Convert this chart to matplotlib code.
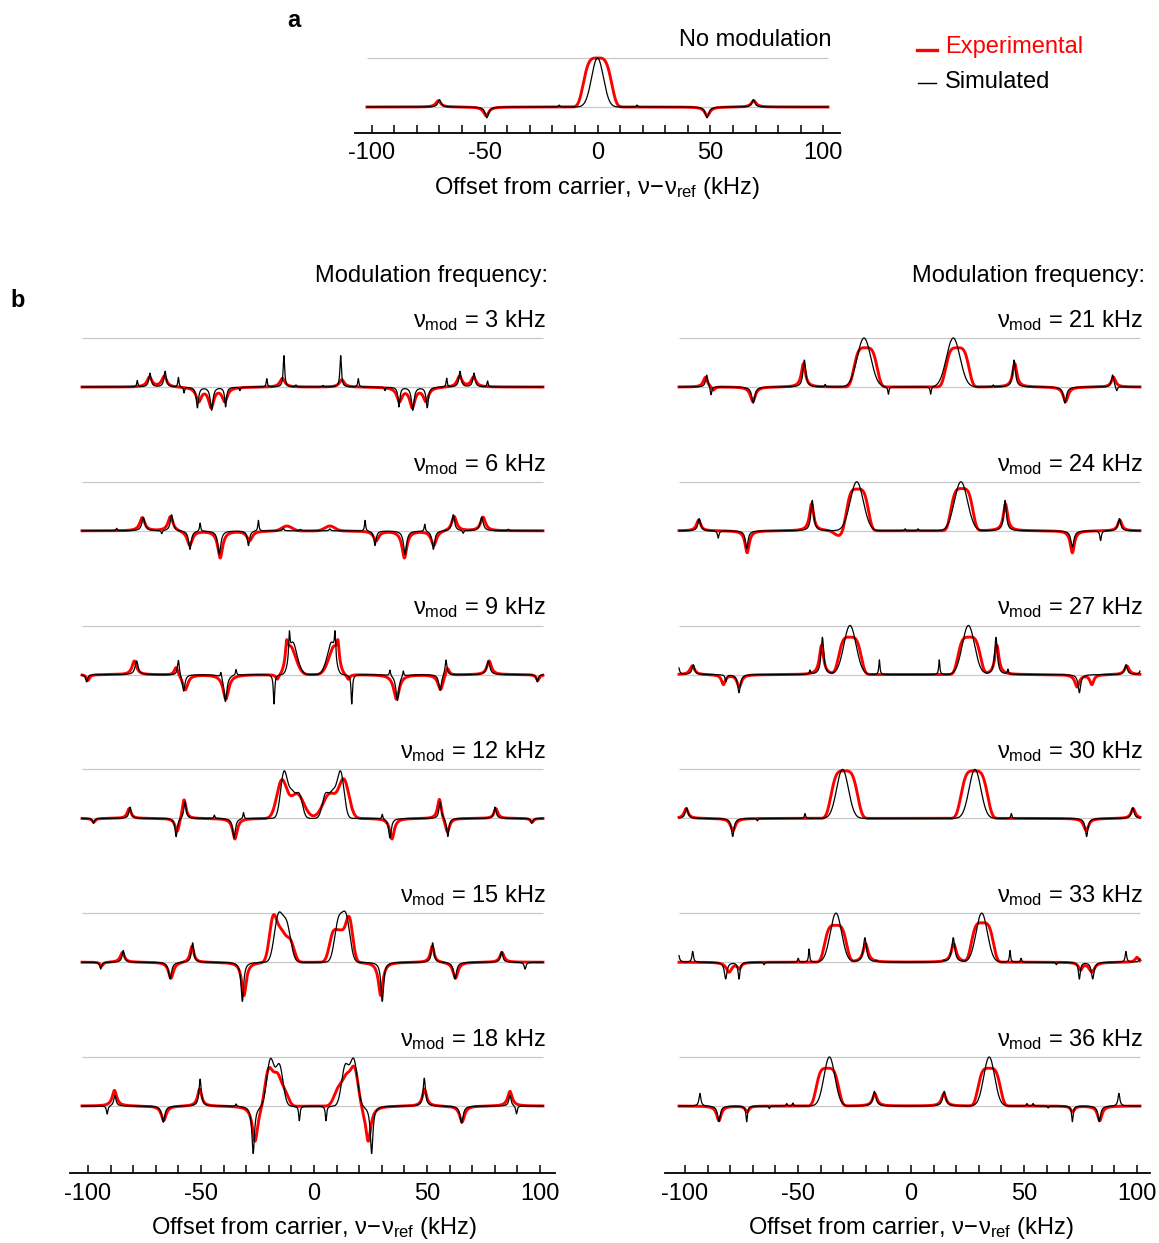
import numpy as np
import matplotlib
matplotlib.use("Agg")
import matplotlib.pyplot as plt
from matplotlib.lines import Line2D

plt.rcParams["font.family"] = ["Liberation Sans", "DejaVu Sans"]
plt.rcParams["mathtext.fontset"] = "custom"
plt.rcParams["mathtext.rm"] = "Liberation Sans"
plt.rcParams["mathtext.it"] = "Liberation Sans"
plt.rcParams["mathtext.bf"] = "Liberation Sans:bold"

# peak lists: (offset kHz, amplitude, width kHz, shape)
# shape: L = lorentzian (hwhm), G = gaussian (sigma), F = flat-topped
sim_a = [(-70, 0.15, 0.8, "L"), (-49, -0.22, 0.9, "L"), (-17, 0.04, 0.3, "L"),
         (0, 1.0, 2.6, "G"), (17.5, 0.04, 0.3, "L"), (48.5, -0.22, 0.9, "L"),
         (69, 0.15, 0.8, "L")]
exp_a = [(-70.5, 0.13, 1.3, "L"), (-49.3, -0.18, 1.4, "L"), (0, 1.0, 6.8, "F"),
         (48.6, -0.18, 1.4, "L"), (69.2, 0.13, 1.3, "L")]

sim_03 = [(-78.2, 0.13, 0.3, "L"), (-72.6, 0.28, 0.6, "L"), (-65.9, 0.32, 0.6, "L"),
          (-60, 0.2, 0.3, "L"), (-57.5, -0.12, 0.3, "L"), (-51.6, -0.42, 0.6, "L"),
          (-45.3, -0.47, 0.7, "L"), (-39.1, -0.4, 0.5, "L"), (-32.8, -0.07, 0.3, "L"),
          (-20.9, 0.17, 0.3, "L"), (-13.3, 0.64, 0.4, "L"), (-8, 0.04, 0.3, "L"),
          (4, 0.03, 0.3, "L"), (11.8, 0.64, 0.4, "L"), (19.6, 0.17, 0.3, "L"),
          (31.4, -0.07, 0.3, "L"), (37.6, -0.4, 0.5, "L"), (43.7, -0.47, 0.7, "L"),
          (50.1, -0.42, 0.6, "L"), (58.7, 0.18, 0.3, "L"), (64.6, 0.32, 0.6, "L"),
          (70.8, 0.28, 0.6, "L"), (76.8, 0.12, 0.3, "L")]
exp_03 = [(-72.8, 0.2, 1.3, "L"), (-66.3, 0.22, 1.3, "L"), (-51, -0.28, 1.4, "L"),
          (-45.5, -0.4, 1.4, "L"), (-39.5, -0.28, 1.4, "L"), (-14, 0.18, 1.3, "L"),
          (12.3, 0.15, 1.3, "L"), (37.8, -0.28, 1.4, "L"), (43.5, -0.4, 1.4, "L"),
          (49.5, -0.28, 1.4, "L"), (64.4, 0.22, 1.3, "L"), (70.6, 0.2, 1.3, "L")]

sim_06 = [(-87.3, 0.05, 0.3, "L"), (-75.5, 0.27, 0.8, "L"), (-67.4, -0.07, 0.3, "L"),
          (-63, 0.33, 0.7, "L"), (-54.9, -0.38, 0.7, "L"), (-50.4, 0.17, 0.3, "L"),
          (-41.9, -0.48, 0.8, "L"), (-29, -0.3, 0.6, "L"), (-24.6, 0.22, 0.3, "L"),
          (-13.6, 0.05, 0.4, "L"), (-6, 0.03, 0.3, "L"), (7, 0.04, 0.4, "L"),
          (22.6, 0.22, 0.3, "L"), (27, -0.3, 0.6, "L"), (40.3, -0.48, 0.8, "L"),
          (49, 0.15, 0.3, "L"), (52.8, -0.38, 0.7, "L"), (61.6, 0.33, 0.7, "L"),
          (66, -0.06, 0.3, "L"), (74.2, 0.28, 0.8, "L"), (86, 0.03, 0.3, "L")]
exp_06 = [(-76, 0.27, 1.3, "L"), (-63.5, 0.3, 1.3, "L"), (-55, -0.3, 1.4, "L"),
          (-41.5, -0.55, 1.3, "L"), (-28.5, -0.2, 1.4, "L"), (-12, 0.1, 2.2, "G"),
          (7, 0.1, 2.2, "G"), (27.5, -0.2, 1.4, "L"), (40, -0.55, 1.3, "L"),
          (53, -0.3, 1.4, "L"), (62, 0.3, 1.3, "L"), (74.8, 0.28, 1.3, "L")]

sim_09 = [(-100.6, -0.15, 0.5, "L"), (-78.5, 0.28, 0.8, "L"), (-60, 0.32, 0.5, "L"),
          (-57.7, -0.35, 0.7, "L"), (-41.2, 0.12, 0.3, "L"), (-39.2, -0.55, 0.8, "L"),
          (-34.5, 0.12, 0.3, "L"), (-17.7, -0.6, 0.35, "L"), (-10.9, 0.5, 0.35, "L"),
          (-9.5, 0.6, 1.5, "G"), (-7, 0.15, 1.5, "G"), (5.4, 0.15, 1.5, "G"),
          (7.9, 0.6, 1.5, "G"), (9.3, 0.5, 0.35, "L"), (16.7, -0.6, 0.35, "L"),
          (33.6, 0.12, 0.3, "L"), (36.9, -0.53, 0.8, "L"), (39.5, 0.12, 0.3, "L"),
          (55.8, -0.33, 0.7, "L"), (58.4, 0.32, 0.5, "L"), (77.1, 0.28, 0.8, "L"),
          (98.8, -0.15, 0.5, "L")]
exp_09 = [(-100, -0.12, 0.8, "L"), (-79.5, 0.28, 1.2, "L"), (-61, 0.18, 1.0, "L"),
          (-57, -0.32, 1.4, "L"), (-39, -0.5, 1.5, "L"), (-16.2, -0.1, 0.8, "L"),
          (-12.1, 0.35, 0.6, "L"), (-10.6, 0.5, 1.8, "G"), (-7.8, 0.15, 1.8, "G"),
          (6.3, 0.15, 1.8, "G"), (9.1, 0.5, 1.8, "G"), (10.6, 0.35, 0.6, "L"),
          (15.2, -0.1, 0.8, "L"), (36.5, -0.5, 1.5, "L"), (56, -0.32, 1.4, "L"),
          (59, 0.18, 1.0, "L"), (77.5, 0.28, 1.2, "L"), (99, -0.12, 0.8, "L")]

sim_12 = [(-97.6, -0.1, 0.5, "L"), (-81.4, 0.23, 0.6, "L"), (-61, -0.38, 0.6, "L"),
          (-57.1, 0.35, 0.6, "L"), (-44.1, 0.07, 0.3, "L"), (-35.4, -0.4, 0.7, "L"),
          (-31.2, 0.13, 0.3, "L"), (-13.3, 0.92, 1.5, "G"), (-9.8, 0.5, 1.6, "G"),
          (-6.5, 0.45, 1.4, "G"), (5.0, 0.45, 1.4, "G"), (8.3, 0.5, 1.6, "G"),
          (11.8, 0.92, 1.5, "G"), (30.2, 0.1, 0.3, "L"), (33.6, -0.4, 0.7, "L"),
          (55.8, 0.35, 0.6, "L"), (59.2, -0.38, 0.6, "L"), (80.1, 0.23, 0.6, "L"),
          (96.3, -0.1, 0.5, "L")]
exp_12 = [(-97.5, -0.08, 0.8, "L"), (-81.8, 0.2, 1.0, "L"), (-60.5, -0.3, 1.2, "L"),
          (-57.5, 0.42, 1.0, "L"), (-35, -0.42, 1.2, "L"), (-14.3, 0.75, 2.2, "G"),
          (-7.5, 0.5, 3, "G"), (7, 0.5, 3, "G"), (13.3, 0.75, 2.2, "G"),
          (34.5, -0.42, 1.2, "L"), (55.5, 0.42, 1.0, "L"), (59, -0.3, 1.2, "L"),
          (80.5, 0.2, 1.0, "L"), (96.5, -0.08, 0.8, "L")]

sim_15 = [(-94.4, -0.14, 0.5, "L"), (-84.4, 0.24, 0.6, "L"), (-63.7, -0.34, 0.8, "L"),
          (-53.7, 0.4, 0.6, "L"), (-31.7, -0.8, 0.7, "L"), (-15.8, 0.91, 1.8, "G"),
          (-12.1, 0.74, 1.8, "G"), (10.8, 0.8, 1.7, "G"), (14.2, 0.89, 1.7, "G"),
          (30.2, -0.8, 0.7, "L"), (52.5, 0.4, 0.6, "L"), (62.4, -0.34, 0.8, "L"),
          (83, 0.22, 0.6, "L"), (93.4, -0.14, 0.5, "L")]
exp_15 = [(-94, -0.08, 0.8, "L"), (-84.8, 0.2, 1.1, "L"), (-63.3, -0.33, 1.3, "L"),
          (-54, 0.33, 1.0, "L"), (-31, -0.68, 1.2, "L"), (-18.2, 0.8, 1.6, "G"),
          (-14.5, 0.62, 2.2, "G"), (-10.3, 0.36, 1.6, "G"), (8.2, 0.45, 1.6, "G"),
          (11.8, 0.6, 2.2, "G"), (15.7, 0.8, 1.5, "G"), (29.5, -0.68, 1.2, "L"),
          (52.3, 0.33, 1.0, "L"), (62.6, -0.33, 1.3, "L"), (83.2, 0.2, 1.1, "L")]

sim_18 = [(-91.5, -0.17, 0.4, "L"), (-88.1, 0.22, 0.6, "L"), (-66.7, -0.33, 0.8, "L"),
          (-50.4, 0.55, 0.6, "L"), (-34.5, 0.05, 0.3, "L"), (-26.9, -0.97, 0.7, "L"),
          (-19.3, 0.94, 1.6, "G"), (-15.3, 0.82, 1.6, "G"), (-6.5, -0.3, 0.35, "L"),
          (5.3, -0.3, 0.35, "L"), (13.8, 0.8, 1.6, "G"), (17.6, 0.93, 1.6, "G"),
          (25.5, -0.97, 0.7, "L"), (48.8, 0.57, 0.6, "L"), (65.3, -0.35, 0.8, "L"),
          (86.7, 0.22, 0.6, "L"), (89.6, -0.17, 0.4, "L")]
exp_18 = [(-88.3, 0.32, 1.2, "L"), (-66.5, -0.3, 1.3, "L"), (-50.6, 0.35, 1.1, "L"),
          (-26.1, -0.72, 1.4, "L"), (-20.2, 0.7, 1.6, "G"), (-16.3, 0.65, 2, "G"),
          (-12.5, 0.2, 1.5, "G"), (10.5, 0.3, 1.8, "G"), (14.5, 0.6, 2, "G"),
          (18.1, 0.7, 1.6, "G"), (24, -0.72, 1.4, "L"), (48.9, 0.35, 1.1, "L"),
          (65.5, -0.33, 1.3, "L"), (86.7, 0.3, 1.2, "L")]

sim_21 = [(-90.4, 0.25, 0.6, "L"), (-88.5, -0.18, 0.4, "L"), (-69.8, -0.33, 0.8, "L"),
          (-47.2, 0.55, 0.7, "L"), (-38, 0.05, 0.3, "L"), (-20.8, 1.0, 3.0, "G"),
          (-10, -0.15, 0.3, "L"), (8.7, -0.15, 0.3, "L"), (18.7, 1.0, 3.0, "G"),
          (36.4, 0.04, 0.3, "L"), (45.6, 0.55, 0.7, "L"), (68.1, -0.33, 0.8, "L"),
          (89.2, 0.25, 0.6, "L"), (91, -0.1, 0.4, "L")]
exp_21 = [(-91, 0.2, 1.1, "L"), (-87.5, -0.08, 0.8, "L"), (-70, -0.3, 1.3, "L"),
          (-47.6, 0.48, 1.1, "L"), (-20.1, 0.8, 5.6, "F"), (20.5, 0.8, 5.6, "F"),
          (45.9, 0.48, 1.1, "L"), (68.4, -0.3, 1.3, "L"), (89.6, 0.2, 1.1, "L")]

sim_24 = [(-93.7, 0.25, 0.7, "L"), (-85.3, -0.15, 0.4, "L"), (-72.7, -0.36, 0.7, "L"),
          (-43.7, 0.62, 0.7, "L"), (-24, 1.0, 2.9, "G"), (-2.6, 0.04, 0.3, "L"),
          (3.1, 0.04, 0.3, "L"), (22.1, 1.0, 2.9, "G"), (41.6, 0.62, 0.7, "L"),
          (71.4, -0.33, 0.8, "L"), (83.9, -0.2, 0.4, "L"), (92.2, 0.25, 0.7, "L")]
exp_24 = [(-94, 0.22, 1.1, "L"), (-72.5, -0.45, 1.1, "L"), (-44, 0.55, 1.1, "L"),
          (-32, -0.1, 2, "G"), (-23.7, 0.85, 5.3, "F"), (22.5, 0.86, 5.3, "F"),
          (41.8, 0.55, 1.1, "L"), (71.4, -0.45, 1.1, "L"), (92.4, 0.22, 1.1, "L")]

sim_27 = [(-103, 0.2, 0.5, "L"), (-96.3, 0.2, 0.7, "L"), (-81.9, -0.14, 0.4, "L"),
          (-76.1, -0.37, 0.7, "L"), (-44.7, 0.08, 0.3, "L"), (-39.2, 0.76, 0.7, "L"),
          (-27, 1.0, 2.7, "G"), (-14, 0.3, 0.3, "L"), (12.5, 0.3, 0.3, "L"),
          (25.4, 1.0, 2.7, "G"), (37.6, 0.76, 0.7, "L"), (42.9, 0.1, 0.3, "L"),
          (74.5, -0.37, 0.7, "L"), (95.1, 0.2, 0.7, "L"), (102, 0.2, 0.5, "L")]
exp_27 = [(-96.8, 0.18, 1.2, "L"), (-83, -0.2, 1.0, "L"), (-76, -0.25, 1.2, "L"),
          (-39.6, 0.6, 1.1, "L"), (-27, 0.76, 5.4, "F"), (25.7, 0.76, 5.4, "F"),
          (38, 0.6, 1.1, "L"), (73.5, -0.25, 1.2, "L"), (80, -0.2, 1.0, "L"),
          (95.5, 0.18, 1.2, "L")]

sim_30 = [(-99.3, 0.22, 0.7, "L"), (-78.9, -0.37, 0.7, "L"), (-68, -0.05, 0.3, "L"),
          (-46.9, 0.1, 0.3, "L"), (-30.3, 1.0, 2.6, "G"), (28.3, 1.0, 2.6, "G"),
          (44.4, 0.1, 0.3, "L"), (77.7, -0.37, 0.7, "L"), (98.1, 0.22, 0.7, "L")]
exp_30 = [(-99.5, 0.2, 1.1, "L"), (-78.8, -0.25, 1.3, "L"), (-29.5, 0.97, 6.4, "F"),
          (28, 0.97, 6.4, "F"), (77.5, -0.25, 1.3, "L"), (98.3, 0.2, 1.1, "L")]

sim_33 = [(-103, 0.2, 0.5, "L"), (-96.6, 0.22, 0.4, "L"), (-82, -0.34, 0.7, "L"),
          (-76.1, -0.34, 0.5, "L"), (-65, -0.05, 0.3, "L"), (-49.9, 0.08, 0.3, "L"),
          (-45.1, 0.27, 0.3, "L"), (-33.2, 1.0, 2.5, "G"), (-20.4, 0.5, 0.8, "L"),
          (-15.2, 0.03, 0.3, "L"), (14.6, 0.03, 0.3, "L"), (18.7, 0.5, 0.8, "L"),
          (31.3, 1.0, 2.5, "G"), (43.8, 0.24, 0.3, "L"), (48.7, 0.08, 0.3, "L"),
          (64.3, -0.05, 0.3, "L"), (74.5, -0.34, 0.5, "L"), (80.4, -0.34, 0.7, "L"),
          (95.1, 0.22, 0.4, "L"), (102, 0.2, 0.5, "L")]
exp_33 = [(-80.5, -0.2, 1.5, "L"), (-76, -0.12, 1.0, "L"), (-33.4, 0.75, 5.3, "F"),
          (-20.1, 0.38, 1.3, "L"), (18.9, 0.38, 1.3, "L"), (31.6, 0.8, 5.3, "F"),
          (75, -0.15, 1.0, "L"), (80, -0.2, 1.5, "L"), (100, 0.1, 1.0, "L")]

sim_36 = [(-93.4, 0.26, 0.5, "L"), (-85, -0.32, 0.7, "L"), (-72.7, -0.32, 0.4, "L"),
          (-62.7, -0.05, 0.3, "L"), (-55, 0.05, 0.3, "L"), (-52.3, 0.06, 0.3, "L"),
          (-36.1, 1.0, 2.4, "G"), (-16.2, 0.3, 0.8, "L"), (14.7, 0.3, 0.8, "L"),
          (34.6, 1.0, 2.4, "G"), (51.3, 0.05, 0.3, "L"), (54, 0.05, 0.3, "L"),
          (60.7, -0.04, 0.3, "L"), (71.4, -0.32, 0.4, "L"), (83.3, -0.32, 0.7, "L"),
          (92, 0.26, 0.5, "L")]
exp_36 = [(-85, -0.3, 1.2, "L"), (-72.5, -0.12, 1.0, "L"), (-37, 0.77, 5.4, "F"),
          (-16, 0.25, 1.2, "L"), (14.5, 0.25, 1.2, "L"), (34.6, 0.77, 5.4, "F"),
          (71.5, -0.12, 1.0, "L"), (83.5, -0.3, 1.2, "L")]

mod_left = [3, 6, 9, 12, 15, 18]
mod_right = [21, 24, 27, 30, 33, 36]
sim_left = [sim_03, sim_06, sim_09, sim_12, sim_15, sim_18]
exp_left = [exp_03, exp_06, exp_09, exp_12, exp_15, exp_18]
sim_right = [sim_21, sim_24, sim_27, sim_30, sim_33, sim_36]
exp_right = [exp_21, exp_24, exp_27, exp_30, exp_33, exp_36]

tick_pos = np.arange(-100, 101, 10)
tick_text = {-100: "-100", -50: "-50", 0: "0", 50: "50", 100: "100"}

RED = "#ff0000"
GRID = "#c8c8c8"
FS = 17
W, H = 1159, 1243
STEP = 143.8 / 49.0          # vertical spacing between stacked traces
XSPAN = (-102.65, 101.33)


def line(x, c, a, w, kind):
    d = x - c
    if kind == "L":
        return a * w ** 2 / (d ** 2 + w ** 2)
    if kind == "G":
        return a * np.exp(-0.5 * (d / w) ** 2)
    return a * np.exp(-(d / w) ** 4)


def spectrum(x, peaks):
    y = np.zeros_like(x)
    for p in peaks:
        y += line(x, *p)
    return y


def rect(x0, y0, x1, y1):
    return [x0 / W, 1 - y1 / H, (x1 - x0) / W, (y1 - y0) / H]


def ftext(x, y, s, **kw):
    fig.text(x / W, 1 - y / H, s, fontsize=kw.pop("fontsize", FS), **kw)


def style_axis(ax, pad):
    for side in ("left", "right", "top"):
        ax.spines[side].set_visible(False)
    ax.spines["bottom"].set_linewidth(1.3)
    ax.set_yticks([])
    ax.set_xticks(tick_pos)
    ax.set_xticklabels([tick_text.get(int(v), "") for v in tick_pos])
    ax.tick_params(axis="x", direction="in", length=5.5, width=1.1,
                   labelsize=FS, pad=pad)
    ax.patch.set_alpha(0)


def draw_trace(ax, x, base, sim, exp):
    ax.hlines([base, base + 1], x[0], x[-1], color=GRID, lw=0.9, zorder=1)
    ax.plot(x, base + spectrum(x, exp), color=RED, lw=2.1, zorder=2)
    ax.plot(x, base + spectrum(x, sim), color="black", lw=0.9, zorder=3)


fig = plt.figure(figsize=(W / 100, H / 100), dpi=100)

# ---- a: no modulation
xa = np.arange(-102.1, 102.1, 0.04)
ax_a = fig.add_axes(rect(355, 50, 840, 133))
ax_a.set_xlim((355 - 597.5) / 2.258, (840 - 597.5) / 2.258)
ax_a.set_ylim(-26 / 49, 57 / 49)
draw_trace(ax_a, xa, 0.0, sim_a, exp_a)
style_axis(ax_a, 6.5)

ftext(294, 27, "a", fontweight="bold", ha="center", va="baseline")
ftext(831, 46, "No modulation", ha="right", va="baseline")
ftext(597, 194, r"Offset from carrier, $\nu\!-\!\nu_{\mathrm{ref}}$ (kHz)",
      ha="center", va="baseline")

# legend
fig.add_artist(Line2D([917 / W, 937 / W], [1 - 50 / H] * 2, color=RED, lw=2.4))
fig.add_artist(Line2D([918 / W, 936 / W], [1 - 83 / H] * 2, color="black", lw=1.0))
ftext(945, 53, "Experimental", color=RED, ha="left", va="baseline")
ftext(945, 88, "Simulated", color="black", ha="left", va="baseline")

# ---- b: modulated, two stacked columns
xb = np.arange(XSPAN[0], XSPAN[1], 0.04)
columns = [(70, 555, 314, mod_left, sim_left, exp_left),
           (665, 1150, 911, mod_right, sim_right, exp_right)]
for x0, x1, zero, mods, sims, exps in columns:
    ax = fig.add_axes(rect(x0, 300, x1, 1173))
    ax.set_xlim((x0 - zero) / 2.26, (x1 - zero) / 2.26)
    ax.set_ylim(-5 * STEP - 67 / 49, 87 / 49)
    for k, (m, sim, exp) in enumerate(zip(mods, sims, exps)):
        draw_trace(ax, xb, -k * STEP, sim, exp)
        ftext(zero + 232, 327 + k * 143.8,
              r"$\nu_{\mathrm{mod}}$ = %d kHz" % m, ha="right", va="baseline")
    style_axis(ax, 7)
    ftext(zero + 234, 282, "Modulation frequency:", ha="right", va="baseline")
    ftext(zero, 1234, r"Offset from carrier, $\nu\!-\!\nu_{\mathrm{ref}}$ (kHz)",
          ha="center", va="baseline")

ftext(18, 307, "b", fontweight="bold", ha="center", va="baseline")

fig.savefig("out.png", dpi=100)
